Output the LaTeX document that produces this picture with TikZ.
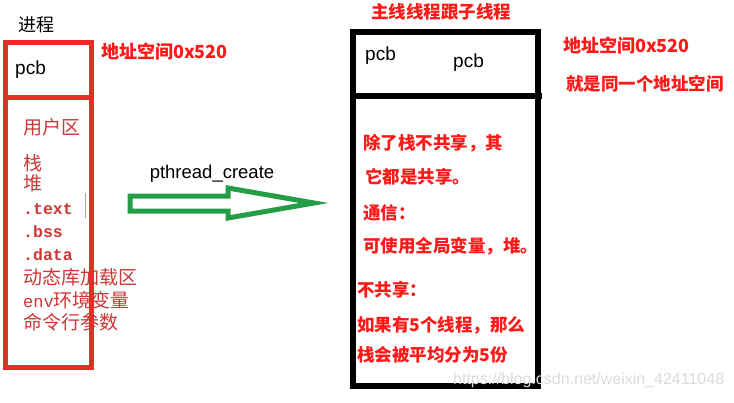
\documentclass[tikz,border=0pt]{standalone}
\usepackage{fontspec}
\setmainfont{Liberation Sans}
\newfontfamily\cjk{Noto Sans CJK SC}
\newfontfamily\mono{Liberation Mono}
\definecolor{boxred}{RGB}{232,44,38}
\definecolor{txtred}{RGB}{255,24,24}
\definecolor{softred}{RGB}{205,55,55}
\definecolor{arrgreen}{RGB}{36,158,70}
\definecolor{wm}{RGB}{220,220,220}
\tikzset{
  redbox/.style={draw=boxred, line width=5pt, inner sep=0pt},
  blackbox/.style={draw=black, line width=6pt, inner sep=0pt},
  boldred/.style={inner sep=0pt, text=txtred, font=\cjk\bfseries\fontsize{17.5}{20}\selectfont},
  softtxt/.style={inner sep=0pt, anchor=west, text=softred, font=\cjk\fontsize{19}{22}\selectfont},
  monotxt/.style={inner sep=0pt, anchor=west, text=softred, font=\mono\bfseries\fontsize{16.5}{20}\selectfont},
  pcbtxt/.style={inner sep=0pt, anchor=west, font=\fontsize{19}{22}\selectfont},
}
\begin{document}
\begin{tikzpicture}[x=1pt,y=-1pt]
\useasboundingbox[fill=white] (0,0) rectangle (734,402);
% left process box
\draw[redbox] (5,42) rectangle (91,367);
\draw[redbox] (5,97) -- (91,97);
\draw[line width=0.6pt, blue!40] (85,193) -- (85,218);
\node[inner sep=0pt, font=\cjk\fontsize{18}{20}\selectfont] (proc) at (36,25) {进程};
\node[pcbtxt] (pcbL) at (15,70) {pcb};
\node[boldred, anchor=west, font=\cjk\bfseries\fontsize{18}{20}\selectfont] (addrL) at (101,52) {地址空间0x520};
\node[softtxt] (user) at (23,127) {用户区};
\node[softtxt] (stack) at (23,163) {栈};
\node[softtxt] (heap) at (23,183) {堆};
\node[monotxt] (text) at (23,209) {.text};
\node[monotxt] (bss) at (23,232) {.bss};
\node[monotxt] (data) at (23,255) {.data};
\node[softtxt] (dyn) at (23,277) {动态库加载区};
\node[softtxt] (env) at (23,300) {{\mono\fontsize{17}{20}\selectfont env}环境变量};
\node[softtxt] (cmd) at (23,322) {命令行参数};
% arrow
\coordinate (a1) at (130,196);
\coordinate (a2) at (228,196);
\coordinate (a3) at (228,188);
\coordinate (tip) at (314,203);
\coordinate (a5) at (228,218);
\coordinate (a6) at (228,211);
\coordinate (a7) at (130,211);
\draw[arrgreen, line width=5pt, line join=miter] (a1) -- (a2) -- (a3) -- (tip) -- (a5) -- (a6) -- (a7) -- cycle;
\node[inner sep=0pt, font=\fontsize{18.5}{20}\selectfont] (pc) at (212,174) {pthread\_create};
% right thread box
\draw[blackbox] (353,32) rectangle (538,386);
\draw[blackbox] (353,96) -- (542,96);
\node[boldred] (title) at (441,12) {主线线程跟子线程};
\node[pcbtxt] (pcbR1) at (365,56) {pcb};
\node[pcbtxt] (pcbR2) at (453,63) {pcb};
\node[boldred, anchor=west, font=\cjk\bfseries\fontsize{18}{20}\selectfont] (addrR) at (563,46) {地址空间0x520};
\node[boldred, anchor=west] (same) at (566,84) {就是同一个地址空间};
\node[boldred, anchor=west] (r1) at (363,143) {除了栈不共享，其};
\node[boldred, anchor=west] (r2) at (365,177) {它都是共享。};
\node[boldred, anchor=west] (r3) at (363,213) {通信：};
\node[boldred, anchor=west] (r4) at (363,246) {可使用全局变量，堆。};
\node[boldred, anchor=west] (r5) at (357,290) {不共享：};
\node[boldred, anchor=west] (r6) at (357,325) {如果有5个线程，那么};
\node[boldred, anchor=west] (r7) at (357,355) {栈会被平均分为5份};
% watermark
\node[inner sep=0pt, anchor=west, text=wm, font=\fontsize{16}{18}\selectfont] (wmk) at (453,380) {https://blog.csdn.net/weixin\_42411048};
\end{tikzpicture}
\end{document}
